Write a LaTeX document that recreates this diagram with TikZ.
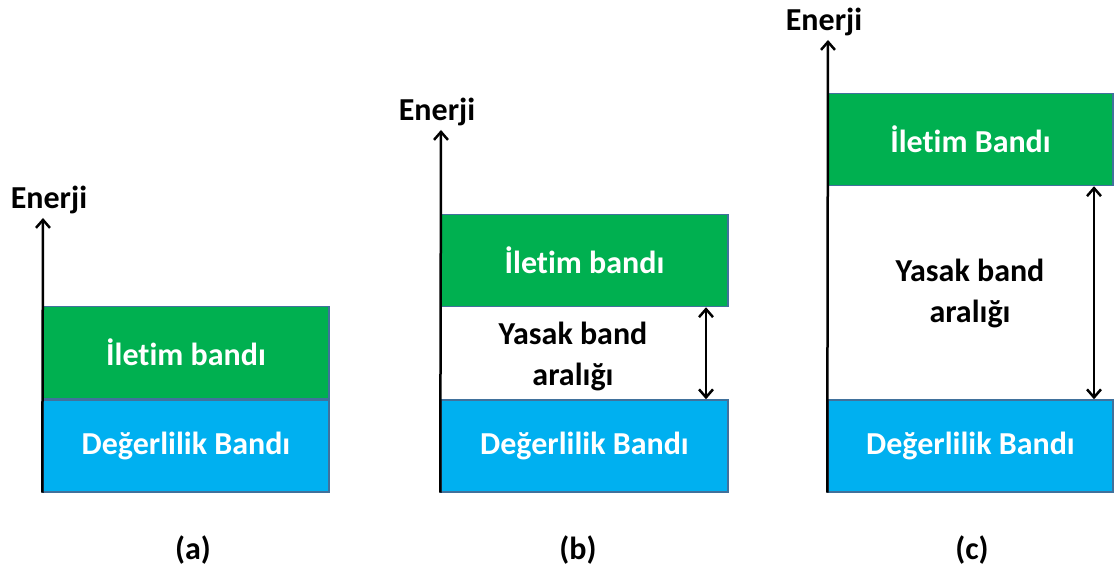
\documentclass[tikz,border=0pt]{standalone}
\usepackage{fontspec}
\setmainfont[Ligatures=NoCommon]{Carlito}
\usepackage{tikz}
\usetikzlibrary{arrows.meta, positioning, calc}
\definecolor{bandgreen}{HTML}{00B050}
\definecolor{bandblue}{HTML}{00B0F0}
\definecolor{bandline}{HTML}{41719C}

\begin{document}
\begin{tikzpicture}[x=1pt, y=1pt,
    band/.style={draw=bandline, line width=1.5pt, minimum height=92pt, inner sep=0pt,
      text=white, font=\fontsize{32}{38}\selectfont\bfseries},
    axis/.style={-{Straight Barb[length=8pt, width=14pt, line width=2.5pt]}, line width=2.5pt},
    gap/.style={{Straight Barb[length=8pt, width=14pt, line width=2.5pt]}-{Straight Barb[length=8pt, width=14pt, line width=2.5pt]}, line width=2.5pt},
    lbl/.style={font=\fontsize{32}{38}\selectfont\bfseries},
    gaplbl/.style={font=\fontsize{32}{41}\selectfont\bfseries, align=center}]
  \useasboundingbox (0,0) rectangle (1114,570);
  % (a) no gap
  \begin{scope}
    \node[band, fill=bandblue, minimum width=286pt] (a-vb) at (186,124) {Değerlilik Bandı};
    \node[band, fill=bandgreen, minimum width=286pt, above=0pt of a-vb] (a-cb) {İletim bandı};
    \coordinate (a-top) at (43,352);
    \draw[axis] (a-vb.south west) -- (a-top);
    \node[lbl, above=1pt of a-top, xshift=6pt] (a-en) {Enerji};
    \node[lbl] (a-cap) at (193,20) {(a)};
  \end{scope}
  % (b) small gap
  \begin{scope}
    \node[band, fill=bandblue, minimum width=287pt] (b-vb) at (584.5,124) {Değerlilik Bandı};
    \node[band, fill=bandgreen, minimum width=287pt, above=92pt of b-vb] (b-cb) {İletim bandı};
    \coordinate (b-top) at (441,440);
    \draw[axis] (b-vb.south west) -- (b-top);
    \node[lbl, above=1pt of b-top, xshift=-4pt] (b-en) {Enerji};
    \draw[gap] (b-cb.south -| 706,0) -- (b-vb.north -| 706,0);
    \node[gaplbl] (b-gap) at (573,214) {Yasak band\\aralığı};
    \node[lbl] (b-cap) at (578,20) {(b)};
  \end{scope}
  % (c) wide gap
  \begin{scope}
    \node[band, fill=bandblue, minimum width=285pt] (c-vb) at (970.5,124) {Değerlilik Bandı};
    \node[band, fill=bandgreen, minimum width=285pt, above=213pt of c-vb] (c-cb) {İletim Bandı};
    \coordinate (c-top) at (828,530);
    \draw[axis] (c-vb.south west) -- (c-top);
    \node[lbl, above=1pt of c-top, xshift=-4pt] (c-en) {Enerji};
    \draw[gap] (c-cb.south -| 1094,0) -- (c-vb.north -| 1094,0);
    \node[gaplbl] (c-gap) at (970,277) {Yasak band\\aralığı};
    \node[lbl] (c-cap) at (972,20) {(c)};
  \end{scope}
\end{tikzpicture}
\end{document}
